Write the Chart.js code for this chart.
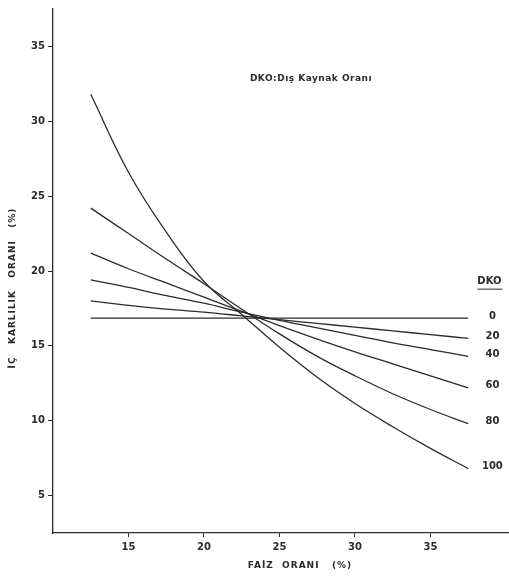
<!DOCTYPE html>
<html>
<head>
<meta charset="utf-8">
<script src="https://cdn.jsdelivr.net/npm/chart.js@4"></script>
<style>
  html, body { margin: 0; padding: 0; background: #fff; }
  #wrap { width: 509px; height: 580px; }
</style>
</head>
<body>
<div id="wrap"><canvas id="grafik"></canvas></div>
<script>
// faiz orani (x), ic karlilik orani (y) for each DKO
const faizOrani = [12.5, 15, 17.5, 20, 22.5, 25, 27.5, 30, 32.5, 35, 37.5];
const dko0   = [16.85, 16.85, 16.85, 16.85, 16.85, 16.85, 16.85, 16.85, 16.85, 16.85, 16.85];
const dko20  = [18.0, 17.7, 17.45, 17.25, 17.0, 16.75, 16.5, 16.25, 16.0, 15.75, 15.5];
const dko40  = [19.4, 18.9, 18.35, 17.85, 17.25, 16.7, 16.2, 15.7, 15.2, 14.75, 14.3];
const dko60  = [21.2, 20.15, 19.2, 18.25, 17.3, 16.35, 15.45, 14.6, 13.8, 13.0, 12.2];
const dko80  = [24.2, 22.5, 20.8, 19.15, 17.45, 15.8, 14.3, 13.0, 11.8, 10.75, 9.8];
const dko100 = [31.8, 26.6, 22.6, 19.3, 17.1, 14.9, 12.9, 11.15, 9.6, 8.15, 6.8];
const dkoLabels = ['0', '20', '40', '60', '80', '100'];
const xTicks = [15, 20, 25, 30, 35];
const yTicks = [5, 10, 15, 20, 25, 30, 35];

const series = [dko0, dko20, dko40, dko60, dko80, dko100];
const ink = '#2b2b2b';
const font = 'DejaVu Sans';

const datasets = series.map((s, k) => ({
  label: 'DKO ' + dkoLabels[k],
  data: faizOrani.map((x, i) => ({ x: x, y: s[i] })),
  borderColor: ink,
  borderWidth: 1.3,
  pointRadius: 0,
  fill: false,
  tension: 0.4
}));

// yazilar: eksen basliklari, DKO etiketleri, aciklama
const yazilar = {
  id: 'yazilar',
  afterDraw(chart) {
    const c = chart.ctx;
    const xs = chart.scales.x, ys = chart.scales.y;
    c.save();
    c.fillStyle = ink;
    c.textAlign = 'center';
    c.textBaseline = 'middle';

    // sag taraf DKO etiketleri
    c.font = 'bold 10px "' + font + '"';
    const lx = xs.getPixelForValue(39.1);
    series.forEach((s, k) => {
      c.fillText(dkoLabels[k], lx, ys.getPixelForValue(s[s.length - 1]) - 2);
    });
    const hy = ys.getPixelForValue(dko0[dko0.length - 1]) - 37;
    c.fillText('DKO', lx - 3, hy);
    c.strokeStyle = ink;
    c.lineWidth = 1;
    c.beginPath();
    c.moveTo(lx - 15, hy + 8);
    c.lineTo(lx + 10, hy + 8);
    c.stroke();

    // aciklama
    c.font = 'bold 9px "' + font + '"';
    c.letterSpacing = '0.5px';
    c.fillText('DKO:Dış Kaynak Oranı', 311, 79);

    // x ekseni basligi
    c.letterSpacing = '1px';
    c.fillText('FAİZ  ORANI   (%)', 300, 566);

    // y ekseni basligi
    c.translate(13, 288);
    c.rotate(-Math.PI / 2);
    c.fillText('İÇ   KARLILIK   ORANI   (%)', 0, 0);
    c.restore();
  }
};

new Chart(document.getElementById('grafik'), {
  type: 'line',
  data: { datasets: datasets },
  options: {
    responsive: true,
    maintainAspectRatio: false,
    animation: false,
    layout: { padding: { top: 4, right: 0, bottom: 0, left: 0 } },
    plugins: { legend: { display: false }, tooltip: { enabled: false } },
    scales: {
      x: {
        type: 'linear',
        min: 10,
        max: 40.2,
        afterBuildTicks: (a) => { a.ticks = xTicks.map(v => ({ value: v })); },
        afterFit: (a) => { a.height = 47; },
        grid: { drawOnChartArea: false, drawTicks: true, tickLength: 4, color: ink },
        border: { display: true, color: ink, width: 1.3 },
        ticks: { color: ink, font: { family: font, size: 10, weight: 'bold' }, padding: 4, maxRotation: 0 }
      },
      y: {
        type: 'linear',
        min: 2.5,
        max: 37.5,
        afterBuildTicks: (a) => { a.ticks = yTicks.map(v => ({ value: v })); },
        afterFit: (a) => { a.width = 53; },
        grid: { drawOnChartArea: false, drawTicks: true, tickLength: 5, color: ink },
        border: { display: true, color: ink, width: 1.3 },
        ticks: { color: ink, font: { family: font, size: 10, weight: 'bold' }, padding: 3 }
      }
    }
  },
  plugins: [yazilar]
});
</script>
</body>
</html>
